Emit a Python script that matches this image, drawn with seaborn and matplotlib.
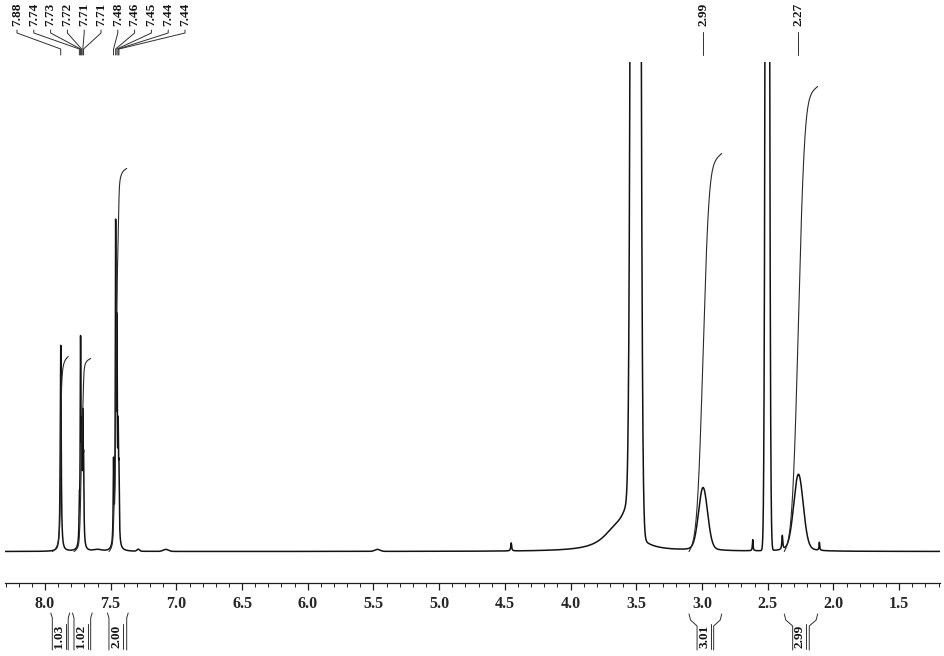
import matplotlib
matplotlib.use("Agg")
import matplotlib.pyplot as plt
from matplotlib.ticker import MultipleLocator, FormatStrFormatter
import numpy as np
import pandas as pd
import seaborn as sns

# narrow lines (Lorentzian): shift / height / half-width, all in ppm and baseline-relative units
sharp_ppm = [7.880, 7.738, 7.729, 7.721, 7.712, 7.706, 7.478, 7.462, 7.452, 7.443, 7.437,
             4.452, 2.614, 2.389, 2.107]
sharp_height = [206, 35, 196, 95, 113, 70, 80, 310, 200, 95, 60,
                8, 11, 14, 8]
sharp_width = [0.004, 0.003, 0.003, 0.003, 0.003, 0.003, 0.003, 0.003, 0.003, 0.003, 0.003,
               0.004, 0.003, 0.004, 0.003]

# broad bands (Gaussian): water, DMSO, the two exchangeable/methyl humps, baseline lumps
broad_ppm = [3.505, 2.503, 2.992, 2.266, 7.60, 7.29, 7.08, 5.47]
broad_height = [5000, 2000, 55, 65, 1.5, 2, 2, 2]
broad_sigma = [0.020, 0.011, 0.034, 0.036, 0.03, 0.01, 0.02, 0.02]

# Lorentzian wings under the broad bands
wing_ppm = [3.56, 3.66, 2.992, 2.266]
wing_height = [35, 18, 8, 12]
wing_width = [0.06, 0.12, 0.05, 0.05]

# peak picking labels
label_ppm = [7.880, 7.738, 7.729, 7.721, 7.712, 7.706, 7.478, 7.462, 7.452, 7.443, 7.437]
solo_label_ppm = [2.992, 2.266]

# integrations
integral_hi = [7.944, 7.779, 7.513, 3.099, 2.374]
integral_lo = [7.823, 7.652, 7.378, 2.850, 2.120]
integral_value = [1.03, 1.02, 2.00, 3.01, 2.99]
integral_top = [195, 193, 383, 398, 465]

W, H = 944, 656
XLIM = (8.304, 1.189)
YLIM = (-31.5, 489.5)


def fx(px):
    return px / W


def fy(py):
    return 1 - py / H


def build_spectrum(ppm):
    y = np.zeros_like(ppm)
    for c, h, g in zip(sharp_ppm, sharp_height, sharp_width):
        y += h * g**2 / (g**2 + (ppm - c) ** 2)
    for c, h, s in zip(broad_ppm, broad_height, broad_sigma):
        y += h * np.exp(-0.5 * ((ppm - c) / s) ** 2)
    for c, h, g in zip(wing_ppm, wing_height, wing_width):
        y += h * g**2 / (g**2 + (ppm - c) ** 2)
    return y


def main():
    sns.set_theme(style="white")
    plt.rcParams["font.family"] = ["Liberation Serif", "DejaVu Serif"]
    plt.rcParams["font.weight"] = "bold"

    ppm = np.linspace(XLIM[0], XLIM[1], 30000)
    inten = build_spectrum(ppm)
    df = pd.DataFrame({"ppm": ppm, "intensity": inten})

    fig = plt.figure(figsize=(W / 100, H / 100), dpi=100)
    ax = fig.add_axes([fx(5), 73 / H, (940 - 5) / W, (594 - 73) / H])

    sns.lineplot(data=df, x="ppm", y="intensity", ax=ax, estimator=None, sort=False,
                 color="#121212", linewidth=1.1)

    # integral traces
    for lo, hi, top in zip(integral_lo, integral_hi, integral_top):
        m = (ppm <= hi) & (ppm >= lo)
        seg = inten[m]
        cum = np.cumsum(seg)
        cum = (cum - cum[0]) / (cum[-1] - cum[0]) * top
        ax.plot(ppm[m], cum, color="#2a2a2a", linewidth=0.8, zorder=3)

    ax.set_xlim(*XLIM)
    ax.set_ylim(*YLIM)
    ax.set_xlabel("")
    ax.set_ylabel("")
    ax.set_yticks([])
    for side in ["left", "right", "top"]:
        ax.spines[side].set_visible(False)
    ax.spines["bottom"].set_color("#202020")
    ax.spines["bottom"].set_linewidth(0.9)
    ax.xaxis.set_major_locator(MultipleLocator(0.5))
    ax.xaxis.set_minor_locator(MultipleLocator(0.1))
    ax.xaxis.set_major_formatter(FormatStrFormatter("%.1f"))
    ax.tick_params(axis="x", which="major", direction="out", length=5, width=0.9,
                   color="#202020", labelsize=11.5, pad=4, bottom=True)
    ax.tick_params(axis="x", which="minor", direction="out", length=3, width=0.7,
                   color="#202020", bottom=True)
    for lab in ax.get_xticklabels():
        lab.set_fontweight("bold")

    def ppm_px(v):
        return ax.transData.transform((v, 0))[0]

    line_kw = dict(color="#303030", linewidth=0.7, transform=fig.transFigure, clip_on=False)
    text_kw = dict(rotation=90, fontsize=9.5, fontweight="bold", color="#151515",
                   transform=fig.transFigure)

    # multiplet labels with leaders
    for i, v in enumerate(label_ppm):
        xl = 17 + i * 16.8
        xp = ppm_px(v)
        fig.text(fx(xl), fy(2.5), f"{v:.2f}", ha="center", va="top", **text_kw)
        fig.add_artist(plt.Line2D([fx(xl), fx(xl), fx(xp), fx(xp)],
                                  [fy(30), fy(33), fy(49), fy(55)], **line_kw))
    for v in solo_label_ppm:
        xp = ppm_px(v)
        fig.text(fx(xp), fy(2.5), f"{v:.2f}", ha="center", va="top", **text_kw)
        fig.add_artist(plt.Line2D([fx(xp), fx(xp)], [fy(32), fy(55)], **line_kw))

    # integration brackets under the axis
    for lo, hi, val in zip(integral_lo, integral_hi, integral_value):
        x1, x2 = ppm_px(hi), ppm_px(lo)
        c = (x1 + x2) / 2
        if x2 - x1 < 25:
            lx = [x1 - 1.5, x1, x1]
            ly = [613, 618, 650]
            rx = [x2 + 1.5, x2, x2]
        else:
            lx = [x1, x1 + 1.5, c - 8.3, c - 8.3]
            ly = [614, 620, 626, 650]
            rx = [x2, x2 - 1.5, c + 8.3, c + 8.3]
        fig.add_artist(plt.Line2D([fx(p) for p in lx], [fy(p) for p in ly], **line_kw))
        fig.add_artist(plt.Line2D([fx(p) for p in rx], [fy(p) for p in ly], **line_kw))
        fig.text(fx(c - 1), fy(636.5), f"{val:.2f}", ha="center", va="center", **text_kw)
        fig.add_artist(plt.Line2D([fx(c + 5.5), fx(c + 5.5)], [fy(624), fy(649)], **line_kw))

    fig.savefig("out.png", dpi=100)
    plt.close(fig)


if __name__ == "__main__":
    main()
